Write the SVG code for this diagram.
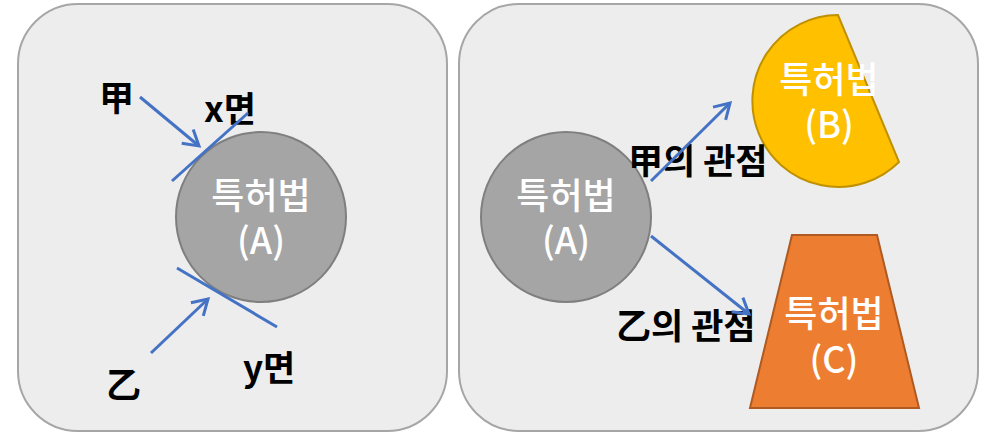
<svg xmlns="http://www.w3.org/2000/svg" width="987" height="435" viewBox="0 0 987 435">
<style>
.panel{fill:#ededed;stroke:#a6a6a6;stroke-width:2}
.conn{stroke:#4472c4;stroke-width:3;fill:none}
.lbl{font-family:"Noto Sans CJK KR","Liberation Sans",sans-serif;font-size:35px;fill:#000;font-weight:bold}
.wt{font-family:"Noto Sans CJK KR","Liberation Sans",sans-serif;font-size:36px;fill:#fff;text-anchor:middle;font-weight:500}
</style>
<defs>
<marker id="ah" markerUnits="userSpaceOnUse" markerWidth="24" markerHeight="24" viewBox="0 0 24 24" refX="20" refY="12" orient="auto">
<path d="M5,3 L20,12 L5,21" fill="none" stroke="#4472c4" stroke-width="3"/>
</marker>
</defs>
<g id="panel-left"><rect class="panel" x="18" y="4" width="429" height="427" rx="60" ry="60"/></g>
<g id="panel-right"><rect class="panel" x="459" y="4" width="519" height="427" rx="60" ry="60"/></g>
<g id="nodeA-left">
<circle cx="261" cy="217" r="85" fill="#a5a5a5" stroke="#7f7f7f" stroke-width="2"/>
<text class="wt" x="261" y="209">특허법</text>
<text class="wt" x="261" y="254">(A)</text>
</g>
<g id="nodeA-right">
<circle cx="566" cy="217" r="85" fill="#a5a5a5" stroke="#7f7f7f" stroke-width="2"/>
<text class="wt" x="566" y="209">특허법</text>
<text class="wt" x="566" y="254">(A)</text>
</g>
<g id="nodeB">
<path d="M838,15 A86,86 0 1 0 899,162 Z" fill="#ffc000" stroke="#bf9000" stroke-width="2"/>
<text class="wt" x="829" y="93">특허법</text>
<text class="wt" x="829" y="138">(B)</text>
</g>
<g id="nodeC">
<polygon points="792,235 877,235 919,408 750,408" fill="#ed7d31" stroke="#ae5a21" stroke-width="2"/>
<text class="wt" x="834" y="327">특허법</text>
<text class="wt" x="834" y="373">(C)</text>
</g>
<g id="labels">
<text class="lbl" x="99" y="111">甲</text>
<text class="lbl" x="204" y="122">x면</text>
<text class="lbl" x="243" y="381">y면</text>
<text class="lbl" x="106" y="398">乙</text>
<text class="lbl" x="628" y="174">甲의 관점</text>
<text class="lbl" x="616" y="339">乙의 관점</text>
</g>
<g id="connectors">
<line class="conn" x1="140" y1="97" x2="199" y2="146" marker-end="url(#ah)"/>
<line class="conn" x1="172" y1="181" x2="248" y2="113"/>
<line class="conn" x1="151" y1="353" x2="208" y2="299" marker-end="url(#ah)"/>
<line class="conn" x1="177" y1="268" x2="277" y2="327"/>
<line class="conn" x1="651" y1="181" x2="730" y2="103" marker-end="url(#ah)"/>
<line class="conn" x1="651" y1="236" x2="749" y2="314" marker-end="url(#ah)"/>
</g>
</svg>
